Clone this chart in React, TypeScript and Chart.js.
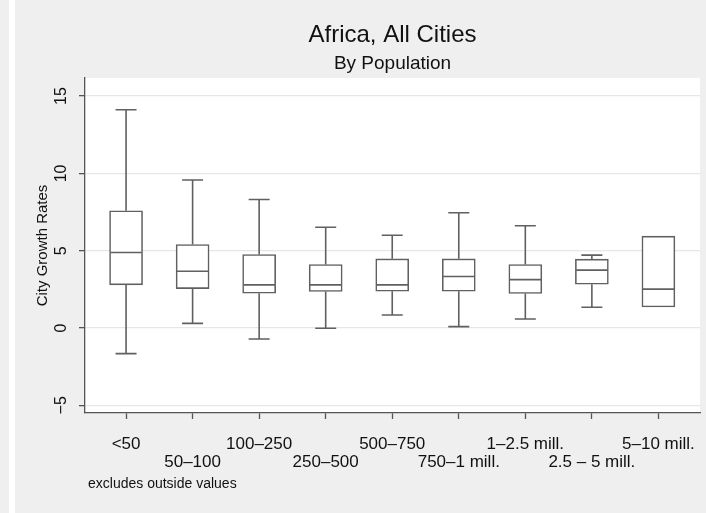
import { useEffect, useRef } from 'react';
import { Chart, registerables } from 'chart.js';

Chart.register(...registerables);

const categories = ['<50', '50–100', '100–250', '250–500', '500–750', '750–1 mill.', '1–2.5 mill.', '2.5 – 5 mill.', '5–10 mill.'];
const whiskerLow = [-1.66, 0.3, -0.71, -0.02, 0.84, 0.09, 0.58, 1.34, 1.36];
const q1 = [2.79, 2.55, 2.25, 2.36, 2.38, 2.38, 2.23, 2.83, 1.36];
const median = [4.88, 3.67, 2.79, 2.79, 2.79, 3.33, 3.13, 3.74, 2.51];
const q3 = [7.58, 5.4, 4.75, 4.1, 4.47, 4.47, 4.1, 4.45, 5.94];
const whiskerHigh = [14.12, 9.57, 8.31, 6.52, 6.0, 7.45, 6.61, 4.71, 5.94];
const yTicks = [-5, 0, 5, 10, 15];

const titleText = 'Africa, All Cities';
const subtitleText = 'By Population';
const noteText = 'excludes outside values';
const yTitle = 'City Growth Rates';

const FONT = "'Liberation Sans', Arial, Helvetica, sans-serif";
const LINE = '#606060';
const BOX_W = 33;
const CAP_W = 21;

const backgroundPlugin = {
  id: 'bg',
  beforeDraw(chart: any) {
    const { ctx, width, height, chartArea } = chart;
    ctx.save();
    ctx.fillStyle = '#efefef';
    ctx.fillRect(0, 0, width, height);
    ctx.fillStyle = '#ffffff';
    ctx.fillRect(9, 0, 6, height);
    ctx.fillRect(chartArea.left, chartArea.top, chartArea.right - chartArea.left, chartArea.bottom - chartArea.top);
    ctx.restore();
  },
};

const whiskerPlugin = {
  id: 'whiskers',
  afterDatasetsDraw(chart: any) {
    const { ctx, scales } = chart;
    const xs = scales.x;
    const ys = scales.y;
    ctx.save();
    ctx.strokeStyle = LINE;
    ctx.lineWidth = 1.6;
    categories.forEach((_, i) => {
      const cx = xs.getPixelForValue(i + 1);
      const yHi = ys.getPixelForValue(whiskerHigh[i]);
      const yQ3 = ys.getPixelForValue(q3[i]);
      const yQ1 = ys.getPixelForValue(q1[i]);
      const yLo = ys.getPixelForValue(whiskerLow[i]);
      const yMed = ys.getPixelForValue(median[i]);
      ctx.beginPath();
      if (whiskerHigh[i] > q3[i]) {
        ctx.moveTo(cx, yQ3);
        ctx.lineTo(cx, yHi);
        ctx.moveTo(cx - CAP_W / 2, yHi);
        ctx.lineTo(cx + CAP_W / 2, yHi);
      }
      if (whiskerLow[i] < q1[i]) {
        ctx.moveTo(cx, yQ1);
        ctx.lineTo(cx, yLo);
        ctx.moveTo(cx - CAP_W / 2, yLo);
        ctx.lineTo(cx + CAP_W / 2, yLo);
      }
      ctx.moveTo(cx - BOX_W / 2 + 0.8, yMed);
      ctx.lineTo(cx + BOX_W / 2 - 0.8, yMed);
      ctx.stroke();
    });
    ctx.restore();
  },
};

const textPlugin = {
  id: 'texts',
  afterDraw(chart: any) {
    const { ctx, chartArea } = chart;
    const cx = (chartArea.left + chartArea.right) / 2;
    ctx.save();
    ctx.fillStyle = '#111';
    ctx.textAlign = 'center';
    ctx.textBaseline = 'alphabetic';
    ctx.font = `24px ${FONT}`;
    ctx.fillText(titleText, cx, 42);
    ctx.font = `19px ${FONT}`;
    ctx.fillText(subtitleText, cx, 69);
    ctx.textAlign = 'left';
    ctx.font = `14px ${FONT}`;
    ctx.fillText(noteText, 88, 488);
    ctx.restore();
  },
};

export default function App() {
  const ref = useRef<HTMLCanvasElement | null>(null);

  useEffect(() => {
    document.body.style.margin = '0';
    const canvas = ref.current;
    if (!canvas) return;
    const chart = new Chart(canvas, {
      type: 'bar',
      data: {
        datasets: [
          {
            label: 'IQR',
            data: categories.map((_, i) => ({ x: i + 1, y: [q1[i], q3[i]] })) as any,
            backgroundColor: '#ffffff',
            borderColor: LINE,
            borderWidth: 1.6,
            borderSkipped: false,
            barThickness: BOX_W,
          },
        ],
      },
      options: {
        responsive: false,
        animation: false,
        devicePixelRatio: 1,
        layout: { padding: { top: 78, right: 6, left: 0, bottom: 0 } },
        plugins: {
          legend: { display: false },
          tooltip: { enabled: false },
          title: { display: false },
        },
        scales: {
          x: {
            type: 'linear',
            offset: false,
            min: 0.383,
            max: 9.625,
            afterBuildTicks: (s: any) => {
              s.ticks = categories.map((_, i) => ({ value: i + 1 }));
            },
            afterFit: (s: any) => {
              s.height = 100;
              s.paddingLeft = 0;
              s.paddingRight = 0;
            },
            ticks: {
              autoSkip: false,
              maxRotation: 0,
              minRotation: 0,
              padding: 16,
              color: '#111',
              font: { family: FONT, size: 17, lineHeight: 1.08 },
              callback: (v: any) => {
                const i = Math.round(Number(v)) - 1;
                if (i < 0 || i >= categories.length) return '';
                return i % 2 === 0 ? [categories[i], ''] : ['', categories[i]];
              },
            },
            grid: { offset: false, drawOnChartArea: false, tickLength: 6, tickColor: '#555', tickWidth: 1.3 },
            border: { color: '#555', width: 1.3 },
          },
          y: {
            type: 'linear',
            min: -5.5,
            max: 16.17,
            afterBuildTicks: (s: any) => {
              s.ticks = yTicks.map((v) => ({ value: v }));
            },
            afterFit: (s: any) => {
              s.width = 85;
              s.paddingTop = 0;
              s.paddingBottom = 0;
            },
            ticks: {
              minRotation: 90,
              maxRotation: 90,
              crossAlign: 'center',
              padding: 8,
              color: '#111',
              font: { family: FONT, size: 16 },
              callback: (v: any) => (Number(v) < 0 ? '−' + Math.abs(Number(v)) : String(v)),
            },
            grid: { color: '#e6e6e6', lineWidth: 1.3, tickLength: 6, tickColor: '#555', tickWidth: 1.3 },
            border: { color: '#555', width: 1.3 },
            title: {
              display: true,
              text: yTitle,
              color: '#111',
              font: { family: FONT, size: 15 },
              padding: { top: 34, bottom: 0 },
            },
          },
        },
      } as any,
      plugins: [backgroundPlugin, whiskerPlugin, textPlugin],
    });
    return () => chart.destroy();
  }, []);

  return <canvas ref={ref} width={706} height={513} style={{ display: 'block' }} />;
}
